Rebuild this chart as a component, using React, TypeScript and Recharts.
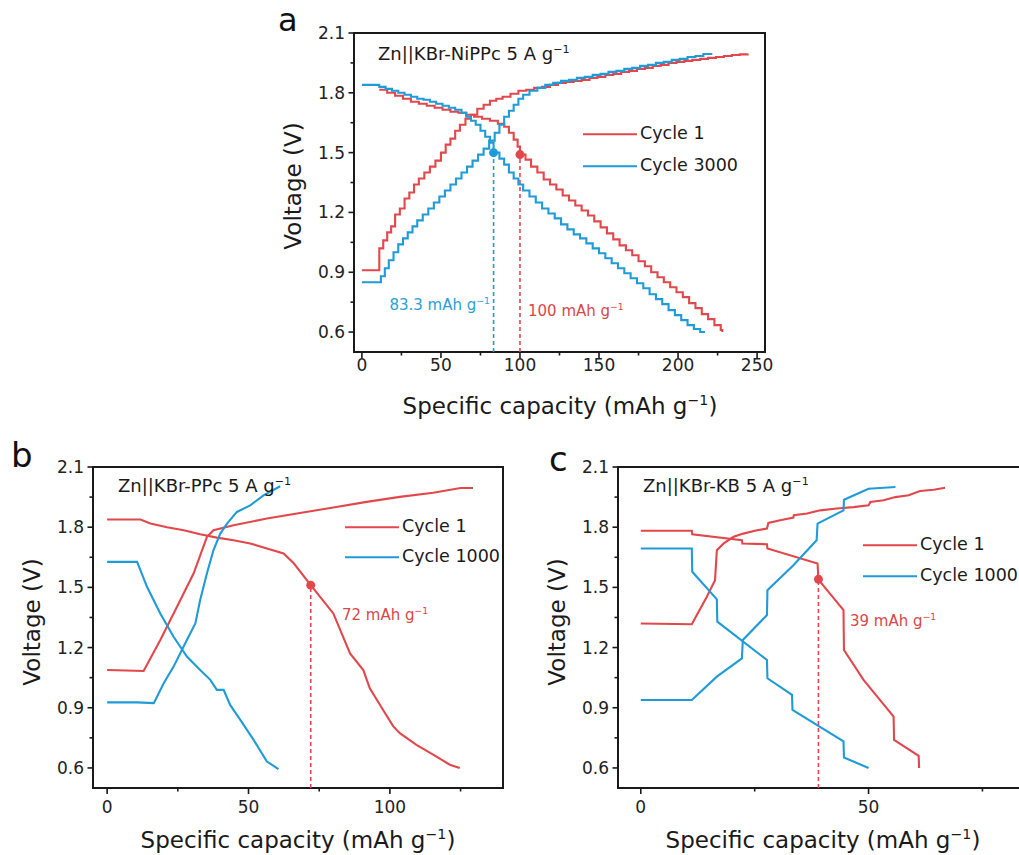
import React from 'react';
import { LineChart, Line, XAxis, YAxis, ReferenceArea, ReferenceDot } from 'recharts';

type Pt = [number, number];

// ---------- Panel a (Zn||KBr-NiPPc) ----------
const aCycle1Charge: Pt[] = [[0,0.91],[11,1.02],[13.5,1.06],[16,1.10],[18.5,1.13],[21,1.19],[24,1.22],[27,1.27],[30,1.30],[33,1.34],[36,1.37],[39.5,1.40],[43,1.43],[46.5,1.46],[50,1.50],[53,1.54],[56,1.57],[59,1.61],[62,1.64],[65.5,1.67],[69,1.69],[73,1.72],[77,1.74],[81,1.76],[85,1.77],[89,1.78],[94,1.795],[99,1.81],[104,1.815],[109,1.825],[114,1.83],[119,1.84],[124,1.85],[129,1.855],[134,1.86],[139,1.865],[144,1.875],[149,1.88],[154,1.89],[159,1.895],[164,1.905],[169,1.91],[174,1.92],[179,1.925],[184,1.935],[189,1.94],[194,1.95],[199,1.955],[204,1.96],[209,1.965],[214,1.97],[219,1.975],[224,1.98],[229,1.985],[234,1.99],[239,1.993],[244,1.997]];
const aCycle3000Charge: Pt[] = [[0,0.85],[12,0.88],[14.5,0.92],[17,0.96],[20,1.00],[23,1.04],[26,1.07],[29,1.10],[32,1.13],[35,1.16],[38.5,1.19],[42,1.22],[45.5,1.25],[49,1.28],[52.5,1.31],[56,1.34],[59.5,1.37],[63,1.40],[66.5,1.43],[70,1.46],[73.5,1.49],[77,1.52],[80.5,1.56],[84,1.60],[87,1.64],[90,1.68],[93,1.71],[96,1.74],[99,1.77],[102,1.79],[106,1.81],[111,1.825],[116,1.84],[121,1.85],[126,1.86],[131,1.865],[136,1.875],[141,1.88],[146,1.89],[151,1.895],[156,1.905],[161,1.91],[166,1.92],[171,1.925],[176,1.935],[181,1.94],[186,1.95],[191,1.955],[196,1.965],[201,1.97],[206,1.98],[211,1.985],[216,1.995],[221,2.0]];
const aCycle1Discharge: Pt[] = [[11,1.815],[16,1.80],[21,1.785],[26,1.77],[31,1.755],[36,1.745],[41,1.735],[46,1.725],[51,1.715],[56,1.705],[61,1.70],[66,1.69],[71,1.68],[76,1.67],[81,1.66],[86,1.645],[90,1.63],[93,1.60],[96,1.565],[98.5,1.53],[100,1.49],[103.5,1.465],[107,1.43],[111,1.40],[115,1.365],[119,1.34],[123,1.315],[127,1.285],[131,1.26],[135,1.235],[139,1.21],[143,1.185],[147,1.155],[151,1.125],[155,1.095],[159,1.065],[163,1.035],[167,1.01],[171,0.985],[175,0.955],[179,0.93],[183,0.90],[187,0.875],[191,0.85],[195,0.825],[199,0.80],[203,0.775],[207,0.745],[211,0.72],[215,0.69],[219,0.665],[223,0.635],[227,0.61],[228,0.60]];
const aCycle3000Discharge: Pt[] = [[0,1.84],[11,1.83],[15,1.82],[19,1.81],[23,1.80],[27,1.79],[31,1.78],[35,1.77],[39,1.765],[43,1.755],[47,1.745],[51,1.735],[55,1.725],[59,1.715],[63,1.70],[66,1.68],[69,1.66],[72,1.64],[75,1.61],[78,1.58],[81,1.55],[83.3,1.50],[87,1.47],[90,1.44],[93,1.40],[96,1.37],[99,1.34],[102,1.31],[106,1.28],[110,1.25],[114,1.22],[118,1.195],[122,1.17],[126,1.14],[130,1.115],[134,1.09],[138,1.07],[142,1.045],[146,1.02],[150,0.995],[154,0.97],[158,0.945],[162,0.92],[166,0.895],[170,0.87],[174,0.845],[178,0.82],[182,0.79],[186,0.765],[190,0.74],[194,0.71],[198,0.685],[202,0.66],[206,0.635],[210,0.615],[214,0.60],[217,0.60]];
const aMarkCycle1: Pt = [100, 1.49];
const aMarkCycle3000: Pt = [83.3, 1.50];
const aXTicks = [0, 25, 50, 75, 100, 125, 150, 175, 200, 225, 250];
const aXMajor = [0, 50, 100, 150, 200, 250];

// ---------- Panel b (Zn||KBr-PPc) ----------
const bCycle1Charge: Pt[] = [[0,1.088],[12.9,1.083],[18.8,1.238],[25.9,1.437],[30.6,1.57],[35.3,1.752],[37.6,1.785],[44.7,1.81],[56.5,1.843],[68.2,1.871],[74.1,1.884],[80,1.898],[91.8,1.926],[103.5,1.951],[115.3,1.972],[125,1.995],[129.4,1.995]];
const bCycle1000Charge: Pt[] = [[0,0.927],[10.6,0.927],[16.5,0.923],[20,1.022],[23.5,1.105],[28.2,1.238],[31.2,1.32],[32.9,1.437],[35.3,1.57],[37.6,1.685],[40,1.768],[42.4,1.818],[45.9,1.876],[50.6,1.909],[55.3,1.959],[61.2,2.004]];
const bCycle1Discharge: Pt[] = [[0,1.838],[11.8,1.838],[15.3,1.818],[21.2,1.80],[27.1,1.785],[32.9,1.765],[38.8,1.748],[44.7,1.735],[50.6,1.719],[56.5,1.694],[62.4,1.669],[66,1.62],[72,1.511],[80,1.37],[85.9,1.171],[90.6,1.088],[92.9,0.997],[97.6,0.889],[101.2,0.807],[103.5,0.773],[109.4,0.715],[115.3,0.666],[121.2,0.616],[124.7,0.6]];
const bCycle1000Discharge: Pt[] = [[0,1.627],[10.6,1.627],[14.1,1.503],[18.8,1.37],[23.5,1.254],[28.2,1.155],[32.9,1.088],[36.5,1.039],[38.8,0.989],[41.2,0.989],[43.5,0.914],[47.1,0.84],[51.8,0.74],[56.5,0.632],[60.6,0.594]];
const bMarkCycle1: Pt = [72, 1.511];
const bXTicks = [0, 25, 50, 75, 100, 125];
const bXMajor = [0, 50, 100];

// ---------- Panel c (Zn||KBr-KB) ----------
const cCycle1Charge: Pt[] = [[0,1.32],[11.2,1.316],[14.5,1.453],[16.3,1.536],[16.7,1.685],[18.2,1.719],[20.4,1.752],[22.5,1.768],[25.5,1.785],[27.7,1.793],[28,1.821],[30.6,1.835],[33.5,1.848],[33.6,1.86],[36.5,1.868],[39.4,1.884],[43,1.893],[46.7,1.90],[50,1.909],[50.4,1.926],[53.3,1.934],[55.9,1.95],[58.8,1.959],[61.3,1.98],[64.3,1.987],[66.8,1.997]];
const cCycle1000Charge: Pt[] = [[0,0.939],[11.2,0.939],[16.7,1.055],[22.2,1.146],[22.4,1.238],[27.7,1.362],[27.8,1.486],[33.5,1.61],[38.6,1.735],[38.8,1.818],[44.5,1.884],[44.6,1.937],[50,1.992],[55.9,2.0]];
const cCycle1Discharge: Pt[] = [[0,1.782],[11.2,1.782],[11.3,1.765],[22.2,1.735],[22.3,1.719],[27.7,1.715],[27.8,1.694],[38.8,1.619],[39,1.539],[44.5,1.387],[44.6,1.188],[48.9,1.039],[55.5,0.856],[55.6,0.74],[61,0.66],[61.1,0.6]];
const cCycle1000Discharge: Pt[] = [[0,1.694],[11.2,1.694],[11.3,1.578],[16.7,1.44],[16.8,1.329],[27.7,1.138],[27.8,1.047],[33.2,0.964],[33.3,0.889],[44.5,0.732],[44.6,0.652],[50,0.6]];
const cMarkCycle1: Pt = [39, 1.54];
const cXTicks = [0, 25, 50, 75];
const cXMajor = [0, 50];

// ---------- shared ----------
const yTicks = [0.6, 0.75, 0.9, 1.05, 1.2, 1.35, 1.5, 1.65, 1.8, 1.95, 2.1];
const yMajor = [0.6, 0.9, 1.2, 1.5, 1.8, 2.1];
const yDomain: [number, number] = [0.5, 2.1];

const RED = '#e2474b';
const BLUE = '#1f9bd7';
const RED_TXT = '#d9474a';
const BLUE_TXT = '#2a9fd8';
const INK = '#1a1a1a';
const FONT = '"DejaVu Sans", sans-serif';

const toObj = (pts: Pt[]) => pts.map(([x, y]) => ({ x, y }));
const isIn = (v: number, arr: number[]) => arr.some((a) => Math.abs(a - v) < 1e-6);

interface Series { data: Pt[]; color: string; step: boolean }
interface PanelProps {
  left: number; top: number; width: number; height: number;
  marginTop: number; marginRight: number; yAxisWidth: number; xAxisHeight: number;
  xDomain: [number, number]; xTicks: number[]; xMajor: number[]; xLabelDy: number;
  series: Series[]; marks: { p: Pt; color: string }[];
}

const Panel: React.FC<PanelProps> = (p) => {
  const XTick = (props: any) => {
    const { x, y, payload } = props;
    const major = isIn(payload.value, p.xMajor);
    return (
      <g>
        <line x1={x} x2={x} y1={y} y2={y + (major ? 6 : 3.5)} stroke={INK} strokeWidth={1.6} />
        {major && (
          <text x={x} y={y + p.xLabelDy} textAnchor="middle" fontFamily={FONT} fontSize={17} fill="#222">
            {payload.value}
          </text>
        )}
      </g>
    );
  };
  const YTick = (props: any) => {
    const { x, y, payload } = props;
    const major = isIn(payload.value, yMajor);
    return (
      <g>
        <line x1={x} x2={x - (major ? 5.5 : 3.5)} y1={y} y2={y} stroke={INK} strokeWidth={1.6} />
        {major && (
          <text x={x - 9} y={y + 6} textAnchor="end" fontFamily={FONT} fontSize={17} fill="#222">
            {Number(payload.value).toFixed(1)}
          </text>
        )}
      </g>
    );
  };
  return (
    <div style={{ position: 'absolute', left: p.left, top: p.top }}>
      <LineChart
        width={p.width}
        height={p.height}
        margin={{ top: p.marginTop, right: p.marginRight, bottom: 0, left: 0 }}
      >
        <XAxis
          type="number" dataKey="x" domain={p.xDomain} ticks={p.xTicks} interval={0}
          allowDataOverflow height={p.xAxisHeight} axisLine={false} tickLine={false}
          tickSize={0} tickMargin={0} tick={XTick}
        />
        <YAxis
          type="number" dataKey="y" domain={yDomain} ticks={yTicks} interval={0}
          allowDataOverflow width={p.yAxisWidth} axisLine={false} tickLine={false}
          tickSize={0} tickMargin={0} tick={YTick}
        />
        <ReferenceArea
          x1={p.xDomain[0]} x2={p.xDomain[1]} y1={yDomain[0]} y2={yDomain[1]}
          fill="none" stroke={INK} strokeWidth={2} ifOverflow="visible"
        />
        {p.marks.map((m, i) => (
          <Line
            key={'d' + i}
            data={toObj([[m.p[0], yDomain[0]], m.p])}
            dataKey="y" type="linear" stroke={m.color} strokeWidth={1.6}
            strokeDasharray="4 3" dot={false} activeDot={false} isAnimationActive={false}
          />
        ))}
        {p.series.map((s, i) => (
          <Line
            key={'s' + i}
            data={toObj(s.data)}
            dataKey="y" type={s.step ? 'stepAfter' : 'linear'} stroke={s.color}
            strokeWidth={2.1} dot={false} activeDot={false} isAnimationActive={false}
          />
        ))}
        {p.marks.map((m, i) => (
          <ReferenceDot key={'m' + i} x={m.p[0]} y={m.p[1]} r={4.5} fill={m.color} stroke="none" />
        ))}
      </LineChart>
    </div>
  );
};

const Sup: React.FC = () => (
  <span style={{ fontSize: '0.62em', position: 'relative', top: '-0.62em' }}>−1</span>
);

const txt = (left: number, top: number, size: number, color: string, content: React.ReactNode, anchor: 'start' | 'center' | 'end' = 'start') => {
  const tx = anchor === 'start' ? '0' : anchor === 'center' ? '-50%' : '-100%';
  return (
    <div
      style={{
        position: 'absolute', left, top, fontSize: size, color, fontFamily: FONT,
        whiteSpace: 'nowrap', lineHeight: 1, transform: `translate(${tx}, -50%)`,
      }}
    >
      {content}
    </div>
  );
};

const vtxt = (cx: number, cy: number, size: number, content: React.ReactNode) => (
  <div
    style={{
      position: 'absolute', left: cx, top: cy, fontSize: size, color: '#1a1a1a', fontFamily: FONT,
      whiteSpace: 'nowrap', lineHeight: 1, transform: 'translate(-50%, -50%) rotate(-90deg)',
    }}
  >
    {content}
  </div>
);

const legend = (left: number, top: number, color: string, label: string) => (
  <div style={{ position: 'absolute', left, top, display: 'flex', alignItems: 'center', transform: 'translateY(-50%)' }}>
    <div style={{ width: 54, height: 2.2, background: color }} />
    <span style={{ marginLeft: 3, fontSize: 17.5, fontFamily: FONT, color: '#1a1a1a', lineHeight: 1 }}>{label}</span>
  </div>
);

const xTitle = <>Specific capacity (mAh g<Sup />)</>;

export default function App() {
  return (
    <div style={{ position: 'absolute', left: 0, top: 0, width: 1019, height: 855, overflow: 'hidden', background: '#fff' }}>
      <Panel
        left={270} top={0} width={530} height={420} marginTop={33} marginRight={35}
        yAxisWidth={84} xAxisHeight={68} xDomain={[-5, 255]} xTicks={aXTicks} xMajor={aXMajor} xLabelDy={19}
        series={[
          { data: aCycle1Charge, color: RED, step: true },
          { data: aCycle1Discharge, color: RED, step: true },
          { data: aCycle3000Charge, color: BLUE, step: true },
          { data: aCycle3000Discharge, color: BLUE, step: true },
        ]}
        marks={[{ p: aMarkCycle3000, color: BLUE }, { p: aMarkCycle1, color: RED }]}
      />
      <Panel
        left={0} top={440} width={520} height={415} marginTop={27} marginRight={17}
        yAxisWidth={93} xAxisHeight={67} xDomain={[-5, 140]} xTicks={bXTicks} xMajor={bXMajor} xLabelDy={25}
        series={[
          { data: bCycle1Charge, color: RED, step: false },
          { data: bCycle1Discharge, color: RED, step: false },
          { data: bCycle1000Charge, color: BLUE, step: false },
          { data: bCycle1000Discharge, color: BLUE, step: false },
        ]}
        marks={[{ p: bMarkCycle1, color: RED }]}
      />
      <Panel
        left={530} top={440} width={508} height={415} marginTop={27} marginRight={10}
        yAxisWidth={88} xAxisHeight={67} xDomain={[-5, 85]} xTicks={cXTicks} xMajor={cXMajor} xLabelDy={25}
        series={[
          { data: cCycle1Charge, color: RED, step: false },
          { data: cCycle1Discharge, color: RED, step: false },
          { data: cCycle1000Charge, color: BLUE, step: false },
          { data: cCycle1000Discharge, color: BLUE, step: false },
        ]}
        marks={[{ p: cMarkCycle1, color: RED }]}
      />

      {/* panel letters */}
      {txt(278, 20, 32, '#111', 'a')}
      {txt(11, 455, 34, '#111', 'b')}
      {txt(549, 459, 34, '#111', 'c')}

      {/* panel a texts */}
      {txt(378, 54, 18, '#1a1a1a', <>Zn||KBr-NiPPc 5 A g<Sup /></>)}
      {legend(583, 134, RED, 'Cycle 1')}
      {legend(583, 166, BLUE, 'Cycle 3000')}
      {txt(490, 305, 15, BLUE_TXT, <>83.3 mAh g<Sup /></>, 'end')}
      {txt(528, 311, 15, RED_TXT, <>100 mAh g<Sup /></>)}
      {vtxt(293, 186, 23, 'Voltage (V)')}
      {txt(560, 406, 23, '#1a1a1a', xTitle, 'center')}

      {/* panel b texts */}
      {txt(118, 486, 18, '#1a1a1a', <>Zn||KBr-PPc 5 A g<Sup /></>)}
      {legend(345, 527, RED, 'Cycle 1')}
      {legend(345, 557, BLUE, 'Cycle 1000')}
      {txt(342, 615, 15, RED_TXT, <>72 mAh g<Sup /></>)}
      {vtxt(32, 622, 23, 'Voltage (V)')}
      {txt(298, 840, 23, '#1a1a1a', xTitle, 'center')}

      {/* panel c texts */}
      {txt(643, 486, 18, '#1a1a1a', <>Zn||KBr-KB 5 A g<Sup /></>)}
      {legend(863, 545, RED, 'Cycle 1')}
      {legend(863, 576, BLUE, 'Cycle 1000')}
      {txt(850, 621, 15, RED_TXT, <>39 mAh g<Sup /></>)}
      {vtxt(557, 622, 23, 'Voltage (V)')}
      {txt(823, 840, 23, '#1a1a1a', xTitle, 'center')}
    </div>
  );
}
